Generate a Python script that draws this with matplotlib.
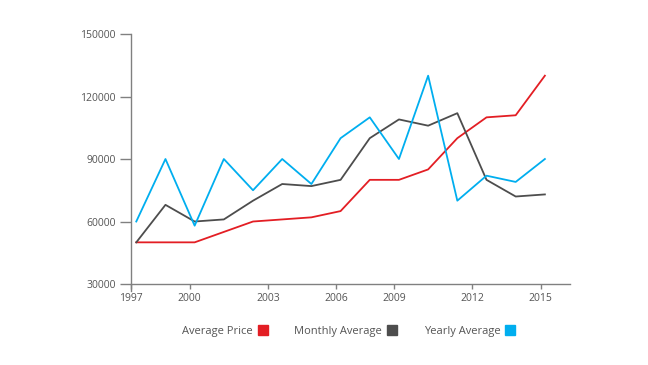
import matplotlib
matplotlib.use('Agg')
import matplotlib.pyplot as plt
from matplotlib.patches import Patch

plt.rcParams['font.family'] = ['Open Sans', 'DejaVu Sans']

# data points (15 samples, evenly spaced)
points = list(range(15))
avg_price = [50000, 50000, 50000, 55000, 60000, 61000, 62000, 65000,
             80000, 80000, 85000, 100000, 110000, 111000, 130000]
monthly_avg = [50000, 68000, 60000, 61000, 70000, 78000, 77000, 80000,
               100000, 109000, 106000, 112000, 80000, 72000, 73000]
yearly_avg = [60000, 90000, 58000, 90000, 75000, 90000, 78000, 100000,
              110000, 90000, 130000, 70000, 82000, 79000, 90000]

year_labels = ['1997', '2000', '2003', '2006', '2009', '2012', '2015']
year_pos = [-0.18, 1.83, 4.51, 6.85, 8.83, 11.51, 13.86]
y_ticks = [30000, 60000, 90000, 120000, 150000]

red = '#e31e24'
gray = '#4d4d4d'
blue = '#00aeef'
axis_col = '#808080'
text_col = '#555555'

fig = plt.figure(figsize=(6.48, 3.65), dpi=100)
ax = fig.add_axes([0.2022, 0.2219, 0.8796 - 0.2022, 0.9068 - 0.2219])

ax.plot(points, avg_price, color=red, lw=1.3)
ax.plot(points, monthly_avg, color=gray, lw=1.3)
ax.plot(points, yearly_avg, color=blue, lw=1.3)

ax.set_xlim(-0.18, 14.86)
ax.set_ylim(30000, 150000)
ax.set_xticks(year_pos)
ax.set_xticklabels(year_labels)
ax.set_yticks(y_ticks)
ax.set_yticklabels([str(v) for v in y_ticks])

for s in ['top', 'right']:
    ax.spines[s].set_visible(False)
for s in ['left', 'bottom']:
    ax.spines[s].set_color(axis_col)
    ax.spines[s].set_linewidth(1.0)
ax.spines['left'].set_bounds(26500, 150000)

ax.tick_params(axis='y', length=8, width=1, color=axis_col, labelcolor=text_col,
               labelsize=7.5, pad=3)
ax.tick_params(axis='x', length=3.5, width=1, color=axis_col, labelcolor=text_col,
               labelsize=7.5, pad=3)

handles = [Patch(color=red, label='Average Price'),
           Patch(color=gray, label='Monthly Average'),
           Patch(color=blue, label='Yearly Average')]
fig.legend(handles=handles, loc='center', bbox_to_anchor=(0.538, 0.094), ncol=3,
           frameon=False, markerfirst=False, handlelength=0.9, handleheight=1.1,
           handletextpad=0.45, columnspacing=2.4, prop={'size': 8},
           labelcolor=text_col)

fig.savefig('out.png', dpi=100)
